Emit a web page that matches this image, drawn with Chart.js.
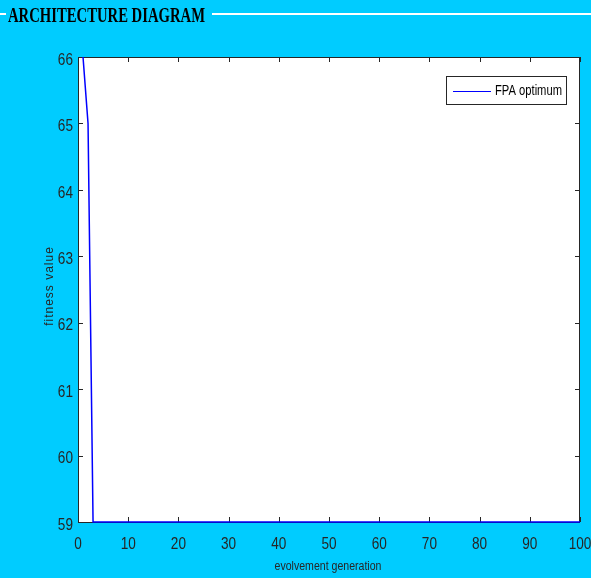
<!DOCTYPE html>
<html>
<head>
<meta charset="utf-8">
<script src="https://cdn.jsdelivr.net/npm/chart.js@4"></script>
<style>
  html, body { margin:0; padding:0; background:#00ccff; }
  canvas { display:block; }
</style>
</head>
<body>
<canvas id="c" width="591" height="578"></canvas>
<script>
// generation -> fitness value (flat after gen 3)
const generations = [1, 2, 3, 100];
const fitness = [66, 65, 59, 59];
const xTicks = [0, 10, 20, 30, 40, 50, 60, 70, 80, 90, 100];
const yTicks = [59, 60, 61, 62, 63, 64, 65, 66];
const seriesName = 'FPA optimum';
const chartTitle = 'ARCHITECTURE DIAGRAM';
const xTitle = 'evolvement generation';
const yTitle = 'fitness value';

const sans = '"Liberation Sans", Arial, sans-serif';
const axisCol = '#262626';

// squeezed text, the reference looks horizontally compressed
function narrowText(ctx, txt, x, y, sx, align) {
  const w = ctx.measureText(txt).width * sx;
  let x0 = x;
  if (align === 'center') x0 = x - w / 2;
  else if (align === 'right') x0 = x - w;
  ctx.save();
  ctx.translate(x0, y);
  ctx.scale(sx, 1);
  ctx.textAlign = 'left';
  ctx.fillText(txt, 0, 0);
  ctx.restore();
}

const decor = {
  id: 'decor',
  beforeDraw(chart) {
    const {ctx, chartArea:a} = chart;
    ctx.save();
    ctx.fillStyle = '#ffffff';
    ctx.fillRect(a.left, a.top, a.right - a.left, a.bottom - a.top);
    // title
    ctx.font = 'bold 21px "Liberation Serif", "Times New Roman", serif';
    ctx.fillStyle = '#000';
    ctx.textBaseline = 'alphabetic';
    const w = ctx.measureText(chartTitle).width;
    narrowText(ctx, chartTitle, 8, 22, 197 / w, 'left');
    ctx.strokeStyle = '#ffffff';
    ctx.lineWidth = 2;
    ctx.beginPath();
    ctx.moveTo(0, 14); ctx.lineTo(6, 14);
    ctx.moveTo(212, 14); ctx.lineTo(591, 14);
    ctx.stroke();
    ctx.restore();
  },
  beforeDatasetsDraw(chart) {
    const {ctx, chartArea:a, scales:{x, y}} = chart;
    ctx.save();
    ctx.strokeStyle = axisCol;
    ctx.lineWidth = 1;
    ctx.beginPath();
    ctx.rect(a.left + 0.5, a.top + 0.5, a.right - a.left - 1, a.bottom - a.top);
    const tl = 5;
    xTicks.forEach(v => {
      const px = Math.round(x.getPixelForValue(v)) + 0.5;
      ctx.moveTo(px, a.bottom); ctx.lineTo(px, a.bottom - tl);
      ctx.moveTo(px, a.top); ctx.lineTo(px, a.top + tl);
    });
    yTicks.forEach(v => {
      const py = Math.round(y.getPixelForValue(v)) + 0.5;
      ctx.moveTo(a.left, py); ctx.lineTo(a.left + tl, py);
      ctx.moveTo(a.right, py); ctx.lineTo(a.right - tl, py);
    });
    ctx.stroke();
    ctx.restore();
  },
  afterDraw(chart) {
    const {ctx, chartArea:a, scales:{x, y}} = chart;
    ctx.save();
    // tick labels
    ctx.fillStyle = axisCol;
    ctx.font = '17px ' + sans;
    ctx.textBaseline = 'middle';
    xTicks.forEach(v => narrowText(ctx, String(v), x.getPixelForValue(v), 544, 0.8, 'center'));
    yTicks.forEach(v => narrowText(ctx, String(v), a.left - 5, y.getPixelForValue(v) + 3, 0.8, 'right'));

    // axis titles
    ctx.font = '12px ' + sans;
    narrowText(ctx, xTitle, 328, 567, 0.88, 'center');
    ctx.save();
    ctx.translate(50, 286);
    ctx.rotate(-Math.PI / 2);
    ctx.letterSpacing = '1px';
    ctx.textAlign = 'center';
    ctx.fillText(yTitle, 0, 0);
    ctx.restore();

    // legend
    ctx.lineWidth = 1;
    ctx.fillStyle = '#fff';
    ctx.fillRect(446.5, 76.5, 120, 28);
    ctx.strokeStyle = axisCol;
    ctx.strokeRect(446.5, 76.5, 120, 28);
    ctx.strokeStyle = '#0000ff';
    ctx.beginPath();
    ctx.moveTo(453, 91.5); ctx.lineTo(491, 91.5);
    ctx.stroke();
    ctx.fillStyle = '#000';
    ctx.font = '14px ' + sans;
    narrowText(ctx, seriesName, 495, 91, 0.8, 'left');
    ctx.restore();
  }
};

new Chart(document.getElementById('c'), {
  type: 'line',
  data: {
    datasets: [{
      label: seriesName,
      data: generations.map((g, i) => ({x: g, y: fitness[i]})),
      borderColor: '#0000ff',
      borderWidth: 1.5,
      pointRadius: 0,
      tension: 0,
      fill: false,
      clip: false
    }]
  },
  options: {
    responsive: false,
    animation: false,
    events: [],
    layout: { padding: { left: 0, top: 57, right: 11, bottom: 0 } },
    plugins: { legend: { display: false }, tooltip: { enabled: false } },
    scales: {
      x: {
        type: 'linear', min: 0, max: 100,
        afterBuildTicks: s => { s.ticks = xTicks.map(v => ({value: v})); },
        afterFit: s => { s.height = 56; s.paddingLeft = 0; s.paddingRight = 0; },
        grid: { display: false, drawTicks: false },
        border: { display: false },
        ticks: { display: false }
      },
      y: {
        min: 59, max: 66,
        afterBuildTicks: s => { s.ticks = yTicks.map(v => ({value: v})); },
        afterFit: s => { s.width = 78; s.paddingTop = 0; s.paddingBottom = 0; },
        grid: { display: false, drawTicks: false },
        border: { display: false },
        ticks: { display: false }
      }
    }
  },
  plugins: [decor]
});
</script>
</body>
</html>
